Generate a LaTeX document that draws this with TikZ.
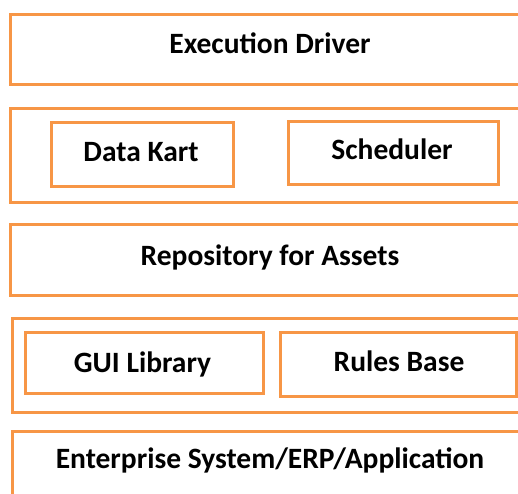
\documentclass[tikz,border=0pt]{standalone}
\usepackage{fontspec}
\setmainfont{Carlito}
\definecolor{boxorange}{HTML}{F79646}
\begin{document}
\begin{tikzpicture}[x=1pt,y=-1pt,
  layer/.style={draw=boxorange, line width=3pt},
  lbl/.style={anchor=base, inner sep=0pt, font=\fontsize{29.5}{32}\selectfont\bfseries, text=black}]
\useasboundingbox (0,0) rectangle (518,493);
\clip (0,0) rectangle (518,493);
% outer layers
\draw[layer] (10,14) rectangle (535,84);
\draw[layer] (10,108) rectangle (535,202);
\draw[layer] (10,224) rectangle (535,295);
\draw[layer] (12,318) rectangle (535,412);
\draw[layer] (12,431) rectangle (535,510);
% inner boxes
\draw[layer] (51,122) rectangle (233,186);
\draw[layer] (288,121) rectangle (498,184);
\draw[layer] (25,332) rectangle (263,393);
\draw[layer] (280,332) rectangle (516,396);
% labels
\node[lbl] (exec) at (270,53) {Execution Driver};
\node[lbl] (kart) at (141,161) {Data Kart};
\node[lbl] (sched) at (392,159) {Scheduler};
\node[lbl] (repo) at (270,265) {Repository for Assets};
\node[lbl] (gui) at (142.5,372) {GUI Library};
\node[lbl] (rules) at (399,371) {Rules Base};
\node[lbl] (erp) at (270,468) {Enterprise System/ERP/Application};
\end{tikzpicture}
\end{document}
